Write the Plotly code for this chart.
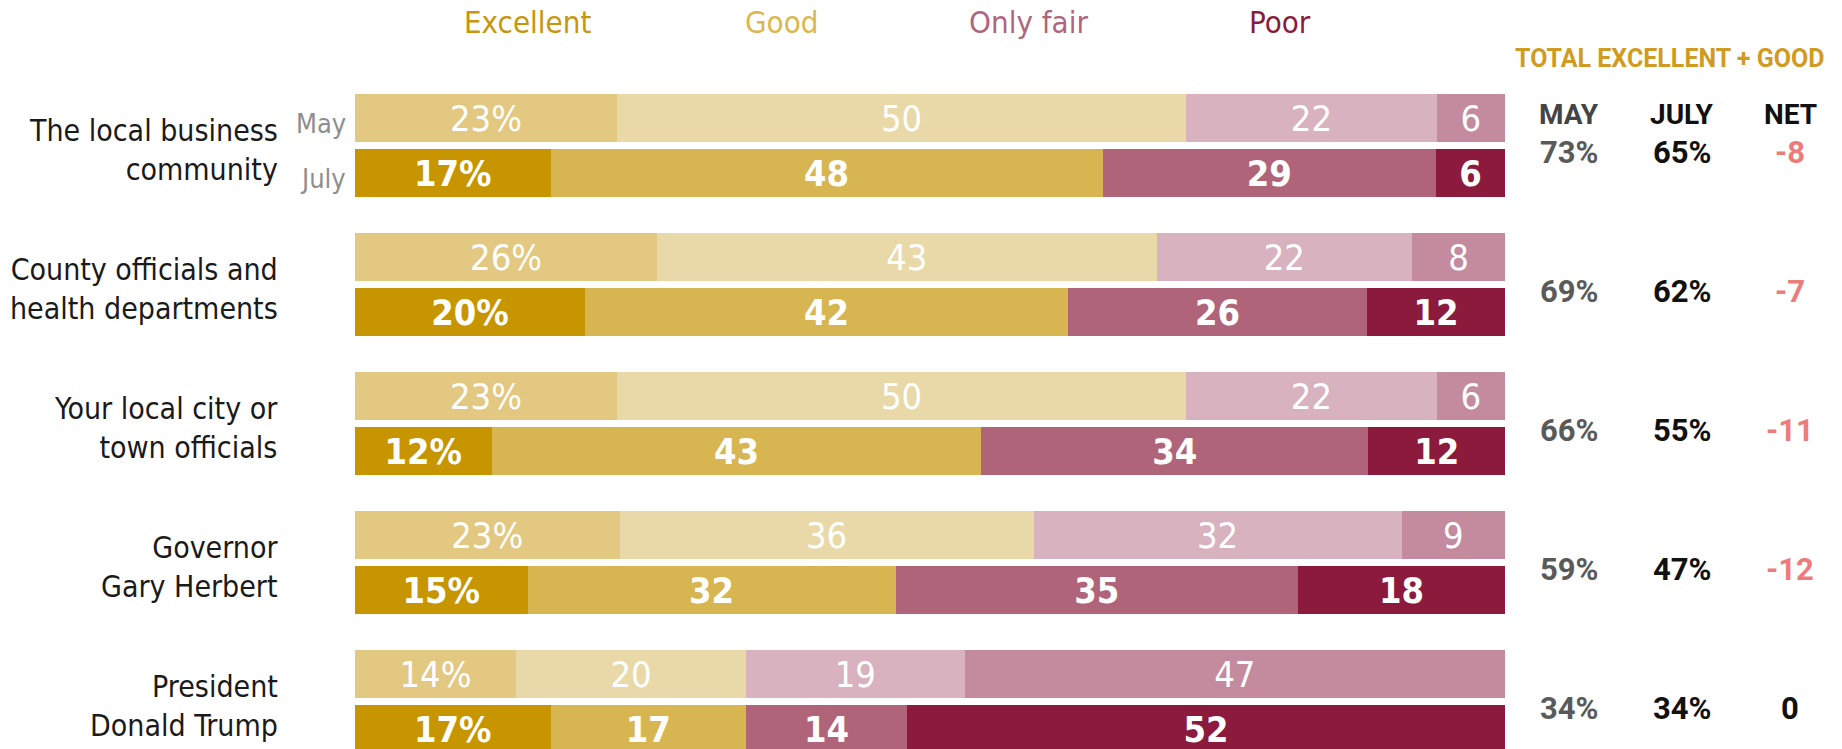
import plotly.graph_objects as go

# ── Data ──────────────────────────────────────────────────────────────────────
groups = [
    "The local business<br>community",
    "County officials and<br>health departments",
    "Your local city or<br>town officials",
    "Governor<br>Gary Herbert",
    "President<br>Donald Trump",
]
ratings = ["Excellent", "Good", "Only fair", "Poor"]

may_excellent = [23, 26, 23, 23, 14]
may_good      = [50, 43, 50, 36, 20]
may_fair      = [22, 22, 22, 32, 19]
may_poor      = [6, 8, 6, 9, 47]

july_excellent = [17, 20, 12, 15, 17]
july_good      = [48, 42, 43, 32, 17]
july_fair      = [29, 26, 34, 35, 14]
july_poor      = [6, 12, 12, 18, 52]

total_may  = [73, 69, 66, 59, 34]
total_july = [65, 62, 55, 47, 34]

# ── Style ─────────────────────────────────────────────────────────────────────
W, H = 1842, 749
NARROW = "DejaVu Sans Condensed, Liberation Sans Narrow, sans-serif"
BOLD = "Roboto, Arial, sans-serif"

MAY_COLORS  = ["#e2c880", "#e9d9a8", "#d8b2bf", "#c48a9e"]
JULY_COLORS = ["#c79500", "#d7b551", "#b06479", "#8b1a3c"]
LEGEND_COLORS = ["#c8960a", "#dcb64e", "#b0657e", "#8b1a3c"]

STEP = 139.0                       # px between groups
BAR_H = 48 / STEP                  # bar thickness in group units
JULY_OFF = 55 / STEP               # July bar below May bar
Y_TOP = -118 / STEP                # first May bar centre sits 118 px down
Y_BOT = (H - 118) / STEP

X0, X1 = 355 / W, 1505 / W         # bar area in paper units


def px_y(p):
    """paper y from a pixel offset measured from the top."""
    return 1 - p / H


fig = go.Figure()

may_series = [may_excellent, may_good, may_fair, may_poor]
july_series = [july_excellent, july_good, july_fair, july_poor]
y_may = [g for g in range(len(groups))]
y_july = [g + JULY_OFF for g in range(len(groups))]

for i, name in enumerate(ratings):
    for vals, ys, colors, wt in (
        (may_series[i], y_may, MAY_COLORS, 400),
        (july_series[i], y_july, JULY_COLORS, 700),
    ):
        labels = [f"{v}%" if i == 0 else str(v) for v in vals]
        fig.add_trace(go.Bar(
            x=vals, y=ys, orientation="h", width=BAR_H,
            name=name, showlegend=False,
            marker=dict(color=colors[i], line=dict(width=0)),
            text=labels, textposition="inside", insidetextanchor="middle",
            textangle=0,
            textfont=dict(color="white", size=36, family=NARROW, weight=wt),
            hoverinfo="skip",
        ))

# ── Left labels ───────────────────────────────────────────────────────────────
for g, label in enumerate(groups):
    fig.add_annotation(
        x=280 / W, xref="paper", xanchor="right",
        y=g + (27.5 + 4) / STEP, yref="y", yanchor="middle",
        text=label, showarrow=False, align="right",
        font=dict(family=NARROW, size=30, color="#1a1a1a"),
    )
for txt, yy in (("May", 0.04), ("July", JULY_OFF + 0.04)):
    fig.add_annotation(
        x=348 / W, xref="paper", xanchor="right",
        y=yy, yref="y", yanchor="middle",
        text=txt, showarrow=False,
        font=dict(family=NARROW, size=27, color="#8e8e8e"),
    )

# ── Legend across the top ─────────────────────────────────────────────────────
for name, cx, col in zip(ratings, [527, 781, 1028, 1280], LEGEND_COLORS):
    fig.add_annotation(
        x=cx / W, xref="paper", xanchor="center",
        y=px_y(22), yref="paper", yanchor="middle",
        text=name, showarrow=False,
        font=dict(family=NARROW, size=31, color=col),
    )

# ── Right-hand totals ─────────────────────────────────────────────────────────
fig.add_annotation(
    x=1669 / W, xref="paper", xanchor="center",
    y=px_y(58), yref="paper", yanchor="middle",
    text="TOTAL EXCELLENT + GOOD", showarrow=False,
    font=dict(family=BOLD, size=25, color="#d19b22", weight=700),
)
cols = [1569, 1682, 1790]
for cx, head, col in zip(cols, ["MAY", "JULY", "NET"], ["#444444", "#111111", "#111111"]):
    fig.add_annotation(
        x=cx / W, xref="paper", xanchor="center",
        y=px_y(114), yref="paper", yanchor="middle",
        text=head, showarrow=False,
        font=dict(family=BOLD, size=28, color=col, weight=700),
    )

for g in range(len(groups)):
    net = total_july[g] - total_may[g]
    cells = [
        (f"{total_may[g]}%", "#5a5a5a"),
        (f"{total_july[g]}%", "#111111"),
        (f"{net}" if net else "0", "#ee7b7b" if net < 0 else "#111111"),
    ]
    for cx, (txt, col) in zip(cols, cells):
        fig.add_annotation(
            x=cx / W, xref="paper", xanchor="center",
            y=g + (27.5 + 7) / STEP, yref="y", yanchor="middle",
            text=txt, showarrow=False,
            font=dict(family=BOLD, size=31, color=col, weight=700),
        )

fig.update_layout(
    width=W, height=H,
    barmode="stack", barnorm="percent",
    paper_bgcolor="white", plot_bgcolor="white",
    margin=dict(l=0, r=0, t=0, b=0),
    hovermode=False,
    xaxis=dict(domain=[X0, X1], range=[0, 100], visible=False, fixedrange=True),
    yaxis=dict(range=[Y_BOT, Y_TOP], visible=False, fixedrange=True),
)

fig.write_html(
    "out.html",
    config={"displayModeBar": False},
    post_script="document.body.style.margin='0';document.body.style.overflow='hidden';",
)
